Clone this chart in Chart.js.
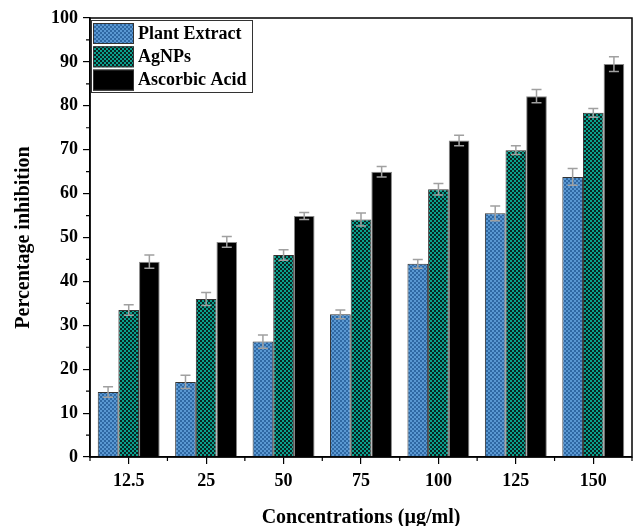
<!DOCTYPE html>
<html>
<head>
<meta charset="utf-8">
<script src="https://cdn.jsdelivr.net/npm/chart.js@4.4.1/dist/chart.umd.min.js"></script>
<style>
html,body{margin:0;padding:0;background:#fff;}
#wrap{width:633px;height:526px;position:relative;}
</style>
</head>
<body>
<div id="wrap"><canvas id="c" width="633" height="526"></canvas></div>
<script>
const categories = ["12.5", "25", "50", "75", "100", "125", "150"];
const seriesNames = ["Plant Extract", "AgNPs", "Ascorbic Acid"];
const plantExtract = [14.8, 17.1, 26.3, 32.5, 44.0, 55.5, 63.8];
const plantExtractErr = [1.2, 1.5, 1.5, 1.0, 1.0, 1.7, 1.9];
const agnps = [33.5, 36.0, 46.0, 54.1, 61.0, 69.9, 78.4];
const agnpsErr = [1.2, 1.5, 1.2, 1.5, 1.3, 1.0, 1.0];
const ascorbic = [44.5, 49.0, 54.9, 65.0, 72.1, 82.2, 89.5];
const ascorbicErr = [1.5, 1.2, 0.8, 1.2, 1.2, 1.5, 1.7];
const yTicks = [0, 10, 20, 30, 40, 50, 60, 70, 80, 90, 100];

function makePattern(c1, c2, size) {
  const p = document.createElement('canvas');
  p.width = size * 2; p.height = size * 2;
  const g = p.getContext('2d');
  g.fillStyle = c1; g.fillRect(0, 0, size * 2, size * 2);
  g.fillStyle = c2;
  g.fillRect(0, 0, size, size);
  g.fillRect(size, size, size, size);
  return document.getElementById('c').getContext('2d').createPattern(p, 'repeat');
}
const bluePat = makePattern('#5a98d2', '#2f68a3', 2);
const greenPat = makePattern('#0aa08e', '#0a2320', 2);

const errs = [plantExtractErr, agnpsErr, ascorbicErr];
const fills = [bluePat, greenPat, '#000000'];

const errorBars = {
  id: 'errorBars',
  afterDatasetsDraw(chart) {
    const ctx = chart.ctx, y = chart.scales.y;
    ctx.save();
    ctx.strokeStyle = '#a0a0a0';
    ctx.lineWidth = 1.5;
    chart.data.datasets.forEach((ds, i) => {
      const meta = chart.getDatasetMeta(i);
      meta.data.forEach((el, j) => {
        const v = ds.data[j], e = errs[i][j];
        const x = el.x;
        const yt = y.getPixelForValue(v + e), yb = y.getPixelForValue(v - e);
        ctx.beginPath();
        ctx.moveTo(x, yt); ctx.lineTo(x, yb);
        ctx.moveTo(x - 5, yt); ctx.lineTo(x + 5, yt);
        ctx.moveTo(x - 5, yb); ctx.lineTo(x + 5, yb);
        ctx.stroke();
      });
    });
    ctx.restore();
  }
};

const frameAndTicks = {
  id: 'frameAndTicks',
  afterDraw(chart) {
    const ctx = chart.ctx, a = chart.chartArea, x = chart.scales.x, y = chart.scales.y;
    ctx.save();
    ctx.strokeStyle = '#000';
    ctx.lineWidth = 1.5;
    ctx.strokeRect(a.left, a.top, a.right - a.left, a.bottom - a.top);
    ctx.lineWidth = 1.2;
    ctx.beginPath();
    for (let k = 0; k < yTicks.length - 1; k++) {
      const py = y.getPixelForValue((yTicks[k] + yTicks[k + 1]) / 2);
      ctx.moveTo(a.left, py); ctx.lineTo(a.left - 4, py);
    }
    for (let k = 0; k <= categories.length; k++) {
      const px = x.getPixelForValue(k - 0.5);
      ctx.moveTo(px, a.bottom); ctx.lineTo(px, a.bottom + 4);
    }
    ctx.stroke();
    // legend
    const lx = 91, ly = 20, lw = 161, lh = 72;
    ctx.fillStyle = '#fff';
    ctx.fillRect(lx, ly, lw, lh);
    ctx.strokeStyle = '#333';
    ctx.lineWidth = 1;
    ctx.strokeRect(lx + 0.5, ly + 0.5, lw, lh);
    ctx.font = 'bold 18px "Liberation Serif", "Times New Roman", serif';
    ctx.textBaseline = 'middle';
    chart.data.datasets.forEach((ds, i) => {
      const ry = ly + 3 + i * 23.3;
      ctx.fillStyle = fills[i];
      ctx.fillRect(lx + 2, ry, 41, 21);
      ctx.strokeStyle = '#333';
      ctx.strokeRect(lx + 2.5, ry + 0.5, 40, 20);
      ctx.fillStyle = '#000';
      ctx.fillText(ds.label, lx + 47, ry + 11);
    });
    ctx.restore();
  }
};

const font = { family: '"Liberation Serif", "Times New Roman", serif', weight: 'bold' };

new Chart(document.getElementById('c'), {
  type: 'bar',
  data: {
    labels: categories,
    datasets: [
      { label: seriesNames[0], data: plantExtract, backgroundColor: bluePat, borderColor: '#333', borderWidth: 1 },
      { label: seriesNames[1], data: agnps, backgroundColor: greenPat, borderColor: '#333', borderWidth: 1 },
      { label: seriesNames[2], data: ascorbic, backgroundColor: '#000', borderColor: '#888', borderWidth: 1 }
    ]
  },
  options: {
    responsive: false,
    animation: false,
    devicePixelRatio: 1,
    layout: { padding: { top: 18, right: 1, left: 0, bottom: 0 } },
    datasets: { bar: { categoryPercentage: 0.8, barPercentage: 1.0 } },
    plugins: { legend: { display: false }, tooltip: { enabled: false } },
    scales: {
      x: {
        grid: { drawOnChartArea: false, offset: false, tickLength: 7, color: '#000', lineWidth: 1.2 },
        border: { display: true, color: '#000', width: 1.5 },
        ticks: { color: '#000', font: { ...font, size: 18 }, padding: 7 },
        title: { display: true, text: 'Concentrations (µg/ml)', color: '#000', font: { ...font, size: 20 }, padding: { top: 19, bottom: -4 } },
        afterFit(s) { s.height = 69; }
      },
      y: {
        min: 0, max: 100,
        grid: { drawOnChartArea: false, tickLength: 7, color: '#000', lineWidth: 1.2 },
        border: { display: true, color: '#000', width: 1.5 },
        afterBuildTicks(s) { s.ticks = yTicks.map(v => ({ value: v })); },
        ticks: { color: '#000', font: { ...font, size: 18 }, padding: 5 },
        title: { display: true, text: 'Percentage inhibition', color: '#000', font: { ...font, size: 20 }, padding: { top: 12, bottom: 0 } },
        afterFit(s) { s.width = 90; }
      }
    }
  },
  plugins: [errorBars, frameAndTicks]
});
</script>
</body>
</html>
